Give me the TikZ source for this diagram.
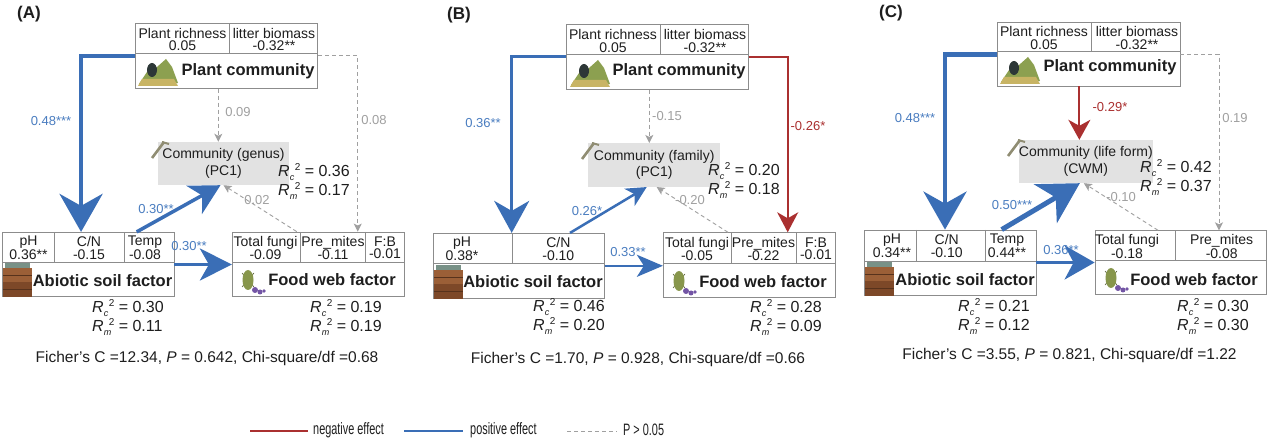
\documentclass[tikz,border=0pt]{standalone}
\usepackage{fontspec}
\setmainfont{Liberation Sans}
\usetikzlibrary{arrows.meta,calc}
\definecolor{pblue}{RGB}{58,110,182}
\definecolor{lblue}{RGB}{74,125,192}
\definecolor{nred}{RGB}{170,48,48}
\definecolor{ngray}{RGB}{160,160,160}
\definecolor{bgray}{RGB}{140,140,140}
\definecolor{cfill}{RGB}{226,226,226}
\definecolor{txt}{RGB}{30,30,30}
\definecolor{plantg}{RGB}{140,160,80}
\definecolor{plantd}{RGB}{45,55,55}
\definecolor{planty}{RGB}{200,180,100}
\definecolor{soilb}{RGB}{155,95,55}
\definecolor{soilc}{RGB}{125,72,40}
\definecolor{soilt}{RGB}{120,145,135}
\definecolor{beetle}{RGB}{135,150,75}
\definecolor{purp}{RGB}{115,85,165}
\newcommand{\Rl}[1]{\textit{R}\rlap{\raisebox{-4pt}{\fontsize{9}{9}\selectfont\textit{#1}}}\hspace{5pt}\raisebox{6pt}{\fontsize{10}{10}\selectfont 2}}
\tikzset{
  box/.style={draw=bgray, line width=0.8pt, inner sep=0pt},
  div/.style={draw=bgray, line width=0.8pt},
  cellt/.style={font=\fontsize{14}{12.5}\selectfont, text=txt, align=center, inner sep=0pt},
  titlet/.style={font=\bfseries\fontsize{16.5}{16.5}\selectfont, text=txt, inner sep=0pt},
  commbox/.style={fill=cfill, inner sep=0pt, align=center, font=\fontsize{14}{16.5}\selectfont, text=txt},
  rlab/.style={font=\fontsize{16}{19}\selectfont, text=txt, align=left, inner sep=0pt, anchor=west},
  plab/.style={font=\fontsize{13}{13}\selectfont, text=lblue, inner sep=0pt},
  nlab/.style={font=\fontsize{13}{13}\selectfont, text=nred, inner sep=0pt},
  glab/.style={font=\fontsize{13}{13}\selectfont, text=ngray, inner sep=0pt},
  fich/.style={font=\fontsize{15.5}{15.5}\selectfont, text=txt, inner sep=0pt},
  paneltitle/.style={font=\bfseries\fontsize{17}{17}\selectfont, text=txt, inner sep=0pt},
  legt/.style={font=\fontsize{16.5}{16.5}\selectfont, text=txt, inner sep=0pt, anchor=west},
  posline/.style={draw=pblue},
  negline/.style={draw=nred},
  ns/.style={draw=ngray, line width=0.9pt, dash pattern=on 4pt off 3pt, -{Stealth[length=8pt,width=8pt,inset=2pt]}},
  planticon/.pic={
    \fill[plantg] (1,27) -- (9,15) -- (19,10) -- (28,2) -- (34,10) -- (40,26) -- cycle;
    \fill[planty] (0,29) -- (4,22) -- (36,22) -- (40,29) -- cycle;
    \fill[plantd] (14,13) ellipse (5 and 7);
  },
  soilicon/.pic={
    \fill[soilt] (2,0) rectangle (27,5);
    \fill[soilb] (0,5) rectangle (29,19);
    \fill[soilc] (0,19) rectangle (29,34);
    \draw[soilc!70!black, line width=0.6pt] (0,12) -- (29,12) (0,26) -- (29,26);
  },
  foodicon/.pic={
    \draw[beetle!60!black, line width=0.6pt] (2,8) -- (14,22) (14,8) -- (2,22);
    \fill[beetle] (8,15) ellipse (5.5 and 10);
    \fill[purp] (15,25) circle (3);
    \fill[purp] (20,27) circle (2.5);
    \fill[purp] (24,26) circle (1.8);
  },
  commicon/.pic={
    \draw[gray!80!olive, line width=2.6pt] (0,17) -- (12,1);
    \draw[gray!80!olive, line width=2pt] (10,1) -- (17,3);
  }
}
\begin{document}
\begin{tikzpicture}[x=1pt,y=-1pt]
\fill[white] (0,0) rectangle (1269,438);
\useasboundingbox (0,0) rectangle (1269,438);

% ================= Panel A =================
\node[paneltitle] (tA) at (29,14) {(A)};
\node[box, minimum width=182, minimum height=65] (pAbox) at (226.7,55.8) {};
\draw[div] (135.7,53.3) -- (317.7,53.3);
\draw[div] (229.3,23.3) -- (229.3,53.3);
\node[cellt] (pArich) at (182.5,39.5) {Plant richness\\0.05};
\node[cellt] (pAlit) at (274,39.5) {litter biomass\\-0.32**};
\pic at (138,57) {planticon};
\node[titlet] (pAt) at (248,71) {Plant community};
\node[commbox, minimum width=131.6, minimum height=43] (cA) at (223.5,163.5) {Community (genus)\\(PC1)};
\pic at (152,141) {commicon};
\node[rlab] (rcA) at (278,182) {\Rl{c} = 0.36\\\Rl{m} = 0.17};
\node[box, minimum width=171.3, minimum height=64.4] (aAbox) at (88.35,264.5) {};
\draw[div] (2.7,262.7) -- (174,262.7);
\draw[div] (54.3,232.3) -- (54.3,262.7);
\draw[div] (124.3,232.3) -- (124.3,262.7);
\node[cellt] (aApH) at (28.5,248) {pH\\0.36**};
\node[cellt] (aAcn) at (89,248) {C/N\\-0.15};
\node[cellt] (aAtp) at (145,248) {Temp\\-0.08};
\pic at (3,263) {soilicon};
\node[titlet] (aAt) at (102.5,280.7) {Abiotic soil factor};
\node[rlab] (raA) at (92,318) {\Rl{c} = 0.30\\\Rl{m} = 0.11};
\node[box, minimum width=172, minimum height=64] (fAbox) at (318.3,264) {};
\draw[div] (232.3,262.3) -- (404.3,262.3);
\draw[div] (300,232) -- (300,262.3);
\draw[div] (365.7,232) -- (365.7,262.3);
\node[cellt] (fAtf) at (265.5,248) {Total fungi\\-0.09};
\node[cellt] (fApm) at (333,248) {Pre\_mites\\-0.11};
\node[cellt] (fAfb) at (385,248) {F:B\\-0.01};
\pic at (240,265) {foodicon};
\node[titlet] (fAt) at (332,280) {Food web factor};
\node[rlab] (rfA) at (310,318) {\Rl{c} = 0.19\\\Rl{m} = 0.19};
\node[fich] (fiA) at (207,358) {Ficher's C =12.34, \textit{P} = 0.642, Chi-square/df =0.68};
\draw[posline, line width=4.5pt, -{Stealth[length=38pt,width=43pt,inset=12pt]}] (pAbox.west) -| ([xshift=-7.3pt]aAbox.north);
\draw[ns] (pAbox.east) -| ([xshift=39.4pt]fAbox.north);
\draw[ns] ([xshift=-8.4pt]pAbox.south) -- ([xshift=-8.4pt]pAbox.south |- cA.north);
\draw[ns] ([xshift=-21.6pt]fAbox.north) -- (cA.south);
\draw[posline, line width=3.5pt, -{Stealth[length=30pt,width=32pt,inset=9pt]}] ([xshift=48.3pt]aAbox.north) -- ([xshift=-3pt]cA.south);
\draw[posline, line width=3.5pt, -{Stealth[length=32pt,width=32pt,inset=9pt]}] (aAbox.east) -- (aAbox.east -| fAbox.west);
\node[plab] (lA1) at (51,121) {0.48***};
\node[glab] (lA2) at (238,112) {0.09};
\node[glab] (lA3) at (374,120) {0.08};
\node[plab] (lA4) at (156,209) {0.30**};
\node[plab] (lA5) at (189,246) {0.30**};
\node[glab] (lA6) at (257,200) {0.02};

% ================= Panel B =================
\node[paneltitle] (tB) at (459,15) {(B)};
\node[box, minimum width=182.3, minimum height=65] (pBbox) at (657.2,56.8) {};
\draw[div] (566,54) -- (748.3,54);
\draw[div] (660,24.3) -- (660,54);
\node[cellt] (pBrich) at (613,40.8) {Plant richness\\0.05};
\node[cellt] (pBlit) at (705,40.8) {litter biomass\\-0.32**};
\pic at (570,58) {planticon};
\node[titlet] (pBt) at (679,71) {Plant community};
\node[commbox, minimum width=131.7, minimum height=43.7] (cB) at (654.2,165) {Community (family)\\(PC1)};
\pic at (582,142) {commicon};
\node[rlab] (rcB) at (708,181) {\Rl{c} = 0.20\\\Rl{m} = 0.18};
\node[box, minimum width=171, minimum height=65] (aBbox) at (518.8,265.8) {};
\draw[div] (433.3,263.3) -- (604.3,263.3);
\draw[div] (512.3,233.3) -- (512.3,263.3);
\node[cellt] (aBpH) at (462,249) {pH\\0.38*};
\node[cellt] (aBcn) at (558.3,249) {C/N\\-0.10};
\pic at (434,265) {soilicon};
\node[titlet] (aBt) at (533,281.7) {Abiotic soil factor};
\node[rlab] (raB) at (533,317) {\Rl{c} = 0.46\\\Rl{m} = 0.20};
\node[box, minimum width=172.4, minimum height=64.6] (fBbox) at (749.5,265) {};
\draw[div] (663.3,263) -- (835.7,263);
\draw[div] (731,232.7) -- (731,263);
\draw[div] (796,232.7) -- (796,263);
\node[cellt] (fBtf) at (697,249) {Total fungi\\-0.05};
\node[cellt] (fBpm) at (763.5,249) {Pre\_mites\\-0.22};
\node[cellt] (fBfb) at (816,249) {F:B\\-0.01};
\pic at (671,266) {foodicon};
\node[titlet] (fBt) at (763,282) {Food web factor};
\node[rlab] (rfB) at (750,318) {\Rl{c} = 0.28\\\Rl{m} = 0.09};
\node[fich] (fiB) at (638,359) {Ficher's C =1.70, \textit{P} = 0.928, Chi-square/df =0.66};
\draw[posline, line width=3pt, -{Stealth[length=32pt,width=35pt,inset=10pt]}] (pBbox.west) -| ([xshift=-7.1pt]aBbox.north);
\draw[negline, line width=2pt, -{Stealth[length=20pt,width=21pt,inset=6pt]}] (pBbox.east) -| ([xshift=38.2pt]fBbox.north);
\draw[ns] ([xshift=-7.9pt]pBbox.south) -- ([xshift=-7.9pt]pBbox.south |- cB.north);
\draw[ns] ([xshift=-21.5pt]fBbox.north) -- ([xshift=2.5pt]cB.south);
\draw[posline, line width=2.5pt, -{Stealth[length=20pt,width=20pt,inset=6pt]}] ([xshift=51.2pt]aBbox.north) -- ([xshift=-7.5pt]cB.south);
\draw[posline, line width=2.5pt, -{Stealth[length=26pt,width=22pt,inset=7pt]}] (aBbox.east) -- (aBbox.east -| fBbox.west);
\node[plab] (lB1) at (483,123) {0.36**};
\node[nlab] (lB2) at (808,126) {-0.26*};
\node[glab] (lB3) at (667,116) {-0.15};
\node[plab] (lB4) at (587,211) {0.26*};
\node[plab] (lB5) at (628,252) {0.33**};
\node[glab] (lB6) at (690,200) {-0.20};

% ================= Panel C =================
\node[paneltitle] (tC) at (891,13) {(C)};
\node[box, minimum width=182.3, minimum height=63.3] (pCbox) at (1088.85,54.35) {};
\draw[div] (997.7,51.7) -- (1180,51.7);
\draw[div] (1091,22.7) -- (1091,51.7);
\node[cellt] (pCrich) at (1044,38) {Plant richness\\0.05};
\node[cellt] (pClit) at (1137,38) {litter biomass\\-0.32**};
\pic at (1000,55) {planticon};
\node[titlet] (pCt) at (1110,67.3) {Plant community};
\node[commbox, minimum width=131.7, minimum height=43] (cC) at (1085.85,161.5) {Community (life form)\\(CWM)};
\pic at (1008,139) {commicon};
\node[rlab] (rcC) at (1140,178) {\Rl{c} = 0.42\\\Rl{m} = 0.37};
\node[box, minimum width=172, minimum height=65] (aCbox) at (950,262.5) {};
\draw[div] (864,261) -- (1036,261);
\draw[div] (916.7,230) -- (916.7,261);
\draw[div] (985,230) -- (985,261);
\node[cellt] (aCpH) at (892,246) {pH\\0.34**};
\node[cellt] (aCcn) at (946.7,246) {C/N\\-0.10};
\node[cellt] (aCtp) at (1007,246) {Temp\\0.44**};
\pic at (865,262) {soilicon};
\node[titlet] (aCt) at (965,280) {Abiotic soil factor};
\node[rlab] (raC) at (958,316.5) {\Rl{c} = 0.21\\\Rl{m} = 0.12};
\node[box, minimum width=171, minimum height=63.6] (fCbox) at (1180.5,262.5) {};
\draw[div] (1095,260.7) -- (1266,260.7);
\draw[div] (1175,230.7) -- (1175,260.7);
\node[cellt] (fCtf) at (1127,246.5) {Total fungi\\-0.18};
\node[cellt] (fCpm) at (1221.7,246.5) {Pre\_mites\\-0.08};
\pic at (1103,263) {foodicon};
\node[titlet] (fCt) at (1194,280) {Food web factor};
\node[rlab] (rfC) at (1177,317) {\Rl{c} = 0.30\\\Rl{m} = 0.30};
\node[fich] (fiC) at (1069.5,355) {Ficher's C =3.55, \textit{P} = 0.821, Chi-square/df =1.22};
\draw[posline, line width=4.5pt, -{Stealth[length=38pt,width=43pt,inset=12pt]}] (pCbox.west) -| ([xshift=-5pt]aCbox.north);
\draw[ns] (pCbox.east) -| ([xshift=38.5pt]fCbox.north);
\draw[negline, line width=2pt, -{Stealth[length=20pt,width=22pt,inset=6pt]}] ([xshift=-9.5pt]pCbox.south) -- ([xshift=-9.5pt]pCbox.south |- cC.north);
\draw[ns] ([xshift=-22.5pt]fCbox.north) -- ([xshift=-2pt]cC.south);
\draw[posline, line width=5pt, -{Stealth[length=40pt,width=45pt,inset=12pt]}] ([xshift=51.7pt]aCbox.north) -- ([xshift=-6pt]cC.south);
\draw[posline, line width=3.5pt, -{Stealth[length=30pt,width=34pt,inset=9pt]}] (aCbox.east) -- (aCbox.east -| fCbox.west);
\node[plab] (lC1) at (915,118) {0.48***};
\node[glab] (lC2) at (1235,118) {0.19};
\node[nlab] (lC3) at (1110,107) {-0.29*};
\node[plab] (lC4) at (1012,205) {0.50***};
\node[plab] (lC5) at (1061,250) {0.36**};
\node[glab] (lC6) at (1121,197) {-0.10};

% ================= Legend =================
\coordinate (lg1a) at (250,431);
\coordinate (lg1b) at (308,431);
\draw[nred, line width=2pt] (lg1a) -- (lg1b);
\node[legt] (lgt1) at (313,430) {\scalebox{0.66}[1]{negative effect}};
\coordinate (lg2a) at (404,431);
\coordinate (lg2b) at (463,431);
\draw[pblue, line width=2pt] (lg2a) -- (lg2b);
\node[legt] (lgt2) at (470,430) {\scalebox{0.66}[1]{positive effect}};
\coordinate (lg3a) at (567,431);
\coordinate (lg3b) at (617,431);
\draw[ngray, line width=1pt, dash pattern=on 4pt off 3pt] (lg3a) -- (lg3b);
\node[legt] (lgt3) at (623,430) {\scalebox{0.66}[1]{P > 0.05}};
\end{tikzpicture}
\end{document}
